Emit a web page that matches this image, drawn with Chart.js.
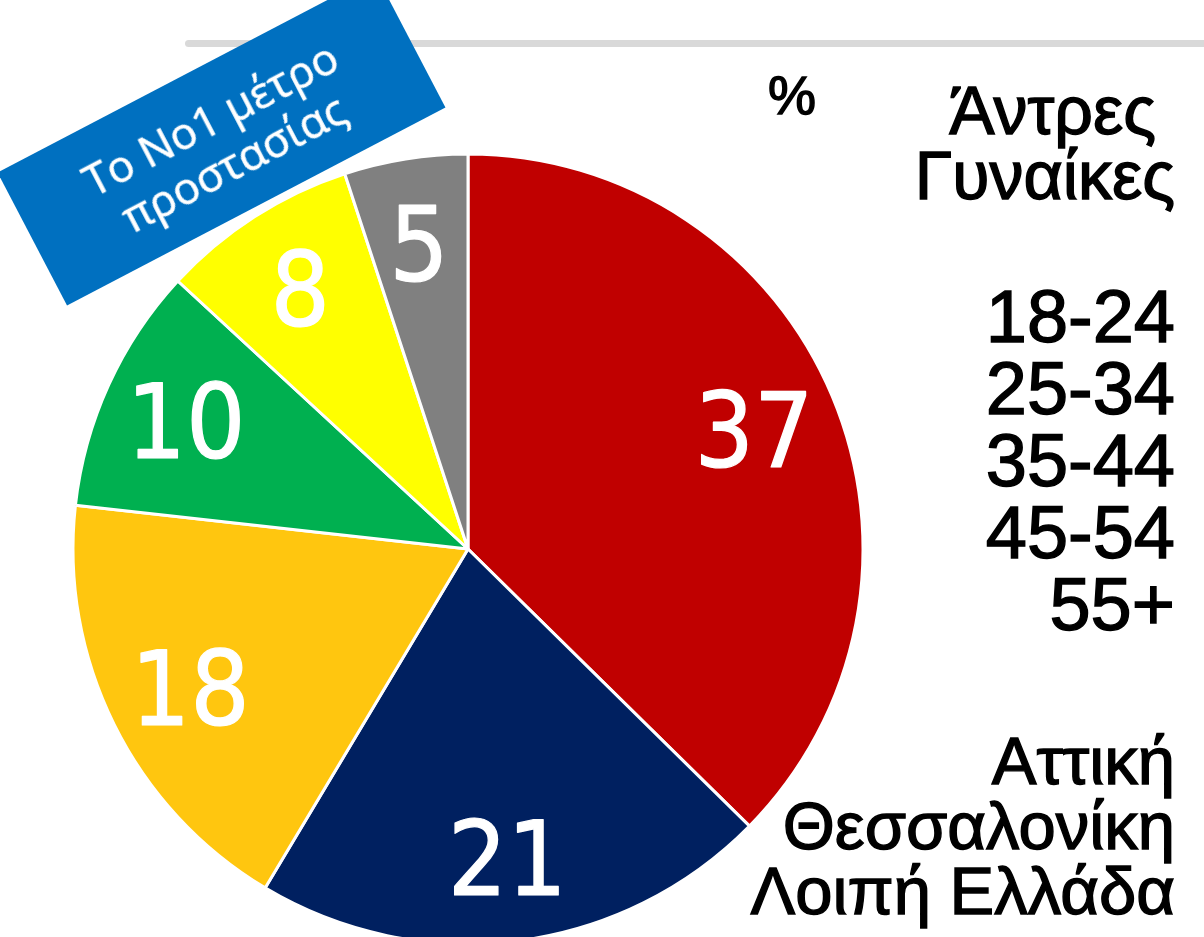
<!DOCTYPE html>
<html>
<head>
<meta charset="utf-8">
<script src="https://cdn.jsdelivr.net/npm/chart.js@4/dist/chart.umd.min.js"></script>
<style>
	html, body { margin: 0; padding: 0; background: #fff; overflow: hidden; }
	#wrap { position: relative; width: 1204px; height: 937px; }
	#pie { position: absolute; left: 0; top: 0; }
	.rule { position: absolute; left: 185px; top: 40px; width: 1030px; height: 7px; background: #d9d9d9; border-radius: 4px; }
	.txt { position: absolute; right: 29px; font-family: "Liberation Sans", Arial, sans-serif; color: #000; white-space: pre; line-height: 1; -webkit-text-stroke: 1.4px #000; }
	.badge {
		position: absolute; left: 8px; top: 65px; width: 427px; height: 150px;
		background: #0070c0; color: #fff; transform: rotate(-27.6deg);
		font-family: "Open Sans", "Noto Sans", sans-serif; font-size: 44px; line-height: 50px;
		-webkit-text-stroke: 0.6px #fff;
		display: flex; flex-direction: column; align-items: center; justify-content: center; text-align: center;
	}
</style>
</head>
<body>
<div id="wrap">
	<div class="rule"></div>
	<canvas id="pie" width="1204" height="937"></canvas>
	<div class="badge"><div>Το Νο1 μέτρο</div><div>προστασίας</div></div>
	<div class="txt" style="right:388px; top:68px; font-size:54px;">%</div>
	<div class="txt" style="top:76px; font-size:68px;">Άντρες </div>
	<div class="txt" style="top:141px; font-size:68px;">Γυναίκες</div>
	<div class="txt" style="top:281px; font-size:74px; line-height:72px; text-align:right;">18-24<br>25-34<br>35-44<br>45-54<br>55+</div>
	<div class="txt" style="top:728px; font-size:67px; line-height:65px; text-align:right;">Αττική<br>Θεσσαλονίκη<br>Λοιπή Ελλάδα</div>
</div>
<script>
// slices clockwise from 12 o'clock
const sliceLabels = ['A', 'B', 'C', 'D', 'E', 'F'];
const sliceValues = [37, 21, 18, 10, 8, 5];
const sliceColors = ['#c00000', '#002060', '#ffc60f', '#00b050', '#ffff00', '#808080'];

const valueLabels = {
	id: 'valueLabels',
	afterDatasetsDraw(chart) {
		let ctx = chart.ctx;
		let meta = chart.getDatasetMeta(0);
		ctx.save();
		ctx.fillStyle = '#fff';
		ctx.strokeStyle = '#fff';
		ctx.lineWidth = 1.2;
		ctx.lineJoin = 'round';
		ctx.font = '104px "DejaVu Sans Condensed", "DejaVu Sans", sans-serif';
		ctx.textAlign = 'center';
		ctx.textBaseline = 'middle';
		meta.data.forEach((arc, i) => {
			let p = arc.getProps(['x', 'y', 'startAngle', 'endAngle', 'outerRadius'], true);
			let mid = (p.startAngle + p.endAngle) / 2;
			let r = p.outerRadius * 0.785;
			let tx = p.x + Math.cos(mid) * r;
			let ty = p.y + Math.sin(mid) * r + 11;
			ctx.fillText(String(sliceValues[i]), tx, ty);
			ctx.strokeText(String(sliceValues[i]), tx, ty);
		});
		ctx.restore();
	}
};

new Chart(document.getElementById('pie').getContext('2d'), {
	type: 'pie',
	data: {
		labels: sliceLabels,
		datasets: [{
			data: sliceValues,
			backgroundColor: sliceColors,
			borderColor: '#fff',
			borderWidth: 3,
			hoverOffset: 0,
		}]
	},
	options: {
		responsive: false,
		animation: false,
		radius: 395,
		layout: { padding: { left: 0, right: 268, top: 161, bottom: 0 } },
		plugins: { legend: { display: false }, tooltip: { enabled: false } },
	},
	plugins: [valueLabels],
});
</script>
</body>
</html>
